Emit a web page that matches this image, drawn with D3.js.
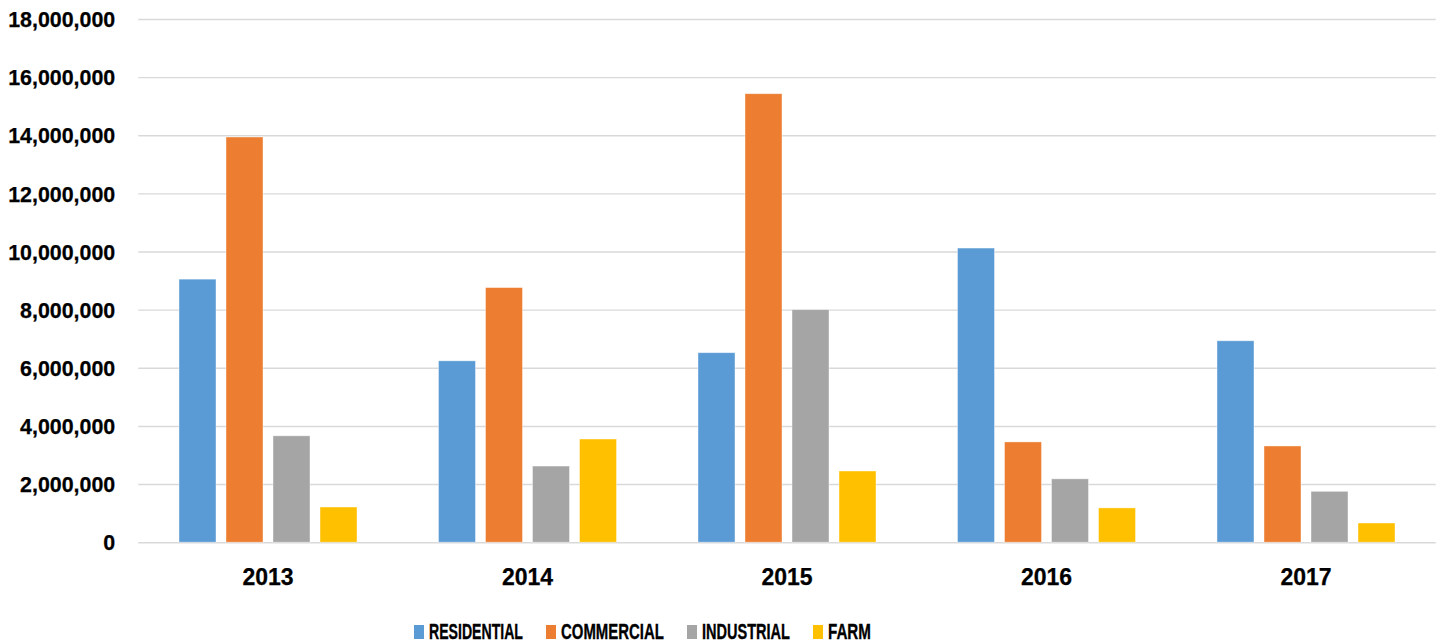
<!DOCTYPE html>
<html><head><meta charset="utf-8">
<script src="https://cdn.jsdelivr.net/npm/d3@7"></script>
<style>html,body{margin:0;padding:0;background:#fff;}svg{display:block;}</style>
</head><body>
<svg id="chart" width="1441" height="643"></svg>
<script>
const years = ["2013","2014","2015","2016","2017"];
const seriesNames = ["RESIDENTIAL","COMMERCIAL","INDUSTRIAL","FARM"];
const residential = [9050000, 6240000, 6520000, 10120000, 6930000];
const commercial  = [13940000, 8760000, 15430000, 3450000, 3310000];
const industrial  = [3660000, 2620000, 8000000, 2180000, 1750000];
const farm        = [1210000, 3550000, 2450000, 1180000, 660000];
const colors = ["#5B9BD5","#ED7D31","#A5A5A5","#FFC000"];
const yTicks = [0,2000000,4000000,6000000,8000000,10000000,12000000,14000000,16000000,18000000];
const seriesValues = [residential, commercial, industrial, farm];

(function(){
const svg = d3.select("#chart");
const pLeft = 138.25, pRight = 1435.75, pTop = 19, pBottom = 542.2;
const font = "'Liberation Sans', Arial, sans-serif";

const x0 = d3.scaleBand().domain(years).range([pLeft, pRight]).paddingInner(0.314).paddingOuter(0.157);
const x1 = d3.scaleBand().domain(seriesNames).range([0, x0.bandwidth()]).paddingInner(0.213).paddingOuter(0);
const y = d3.scaleLinear().domain([0, 18000000]).range([pBottom, pTop]);

// gridlines
const yAxis = d3.axisLeft(y).tickValues(yTicks).tickSize(-(pRight-pLeft)).tickFormat(d3.format(","));
const gy = svg.append("g").attr("transform", `translate(${pLeft},0)`).call(yAxis);
gy.select(".domain").remove();
gy.selectAll(".tick line").attr("stroke", "#d9d9d9").attr("stroke-width", 1.4);
gy.selectAll(".tick text")
  .attr("x", -23).attr("dy", null).attr("y", 7.7)
  .attr("fill", "#000").attr("font-family", font).attr("font-weight", "bold").attr("font-size", "21.4px")
  .attr("stroke", "#000").attr("stroke-width", 0.25)
  .attr("text-anchor", "end");

// bars
const groups = svg.append("g").selectAll("g").data(years).join("g")
  .attr("transform", d => `translate(${x0(d)},0)`);
groups.selectAll("rect")
  .data((yr, i) => seriesNames.map((s, k) => ({s, k, v: seriesValues[k][i]})))
  .join("rect")
  .attr("x", d => x1(d.s))
  .attr("width", x1.bandwidth())
  .attr("y", d => y(d.v))
  .attr("height", d => y(0) - y(d.v))
  .attr("fill", d => colors[d.k])
  .attr("stroke", "rgba(255,255,255,0.5)").attr("stroke-width", 0.8);

// x axis labels
const xAxis = d3.axisBottom(x0).tickSize(0).tickPadding(0);
const gx = svg.append("g").attr("transform", `translate(0,${pBottom})`).call(xAxis);
gx.select(".domain").remove();
gx.selectAll(".tick text")
  .attr("y", 43).attr("dy", null)
  .attr("fill", "#000").attr("font-family", font).attr("font-weight", "bold").attr("font-size", "23px")
  .attr("stroke", "#000").attr("stroke-width", 0.25);

// legend
const legendSq = [414, 546, 687, 813];
const legendTx = [429, 561, 702, 828];
const legendW = [94, 103, 88, 43];
const lg = svg.append("g");
seriesNames.forEach((s, k) => {
  lg.append("rect").attr("x", legendSq[k]).attr("y", 625).attr("width", 10).attr("height", 14).attr("fill", colors[k]);
  const g = lg.append("g");
  const t = g.append("text").attr("x", 0).attr("y", 0).text(s)
    .attr("font-family", font).attr("font-weight", "bold").attr("font-size", "22px")
    .attr("fill", "#000").attr("stroke", "#000").attr("stroke-width", 0.35);
  const w = t.node().getComputedTextLength();
  g.attr("transform", `translate(${legendTx[k]},639) scale(${legendW[k] / w},1)`);
});
})();
</script>
</body></html>
